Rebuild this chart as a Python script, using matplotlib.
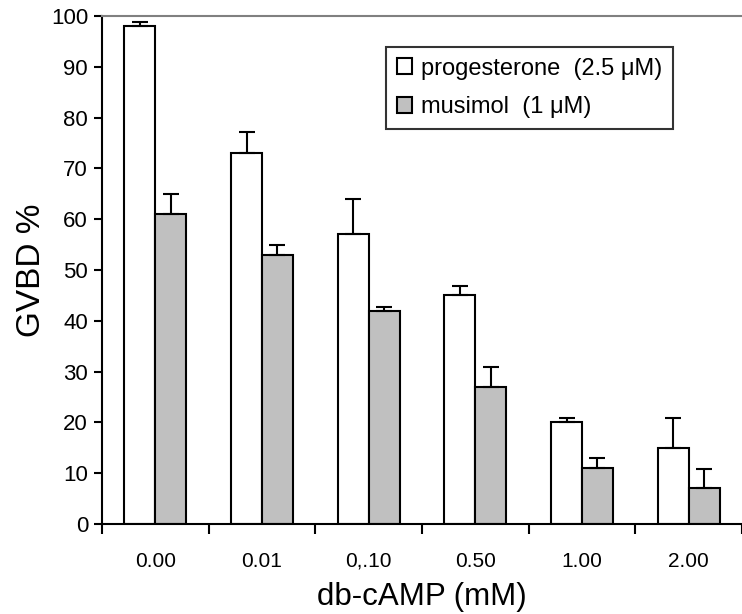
import matplotlib
matplotlib.use("Agg")
import matplotlib.pyplot as plt
import numpy as np

plt.rcParams['font.family'] = ['Liberation Sans', 'DejaVu Sans']

categories = ["0.00", "0.01", "0,.10", "0.50", "1.00", "2.00"]
progesterone = [98, 73, 57, 45, 20, 15]
progesterone_err = [0.8, 4.2, 7.0, 1.9, 0.8, 5.8]
musimol = [61, 53, 42, 27, 11, 7]
musimol_err = [3.9, 1.9, 0.8, 4.0, 2.0, 3.9]

W, H = 742, 614
fig = plt.figure(figsize=(W / 100, H / 100), dpi=100)
ax = fig.add_axes([102 / W, 90 / H, (742 - 102) / W, 508 / H])

x = np.arange(len(categories))
bw = 0.29
ekw = dict(elinewidth=1.5, capsize=6, capthick=1.5, ecolor='black')
ax.bar(x - bw / 2, progesterone, bw, color='white', edgecolor='black', linewidth=1.5,
       yerr=[np.zeros(len(x)), progesterone_err], error_kw=ekw,
       label='progesterone  (2.5 μM)', zorder=2)
ax.bar(x + bw / 2, musimol, bw, color='#c0c0c0', edgecolor='black', linewidth=1.5,
       yerr=[np.zeros(len(x)), musimol_err], error_kw=ekw,
       label='musimol  (1 μM)', zorder=2)

ax.set_ylim(0, 100)
ax.set_xlim(-0.5, 5.5 - 8 / 108)
ax.set_yticks(range(0, 101, 10))
ax.set_xticks(x)
ax.set_xticklabels(categories)
ax.set_xticks(np.arange(-0.5, 6.0, 1.0), minor=True)
ax.tick_params(axis='x', which='major', length=0, pad=20, labelsize=15)
ax.tick_params(axis='x', which='minor', length=7, width=1.5, direction='out')
ax.tick_params(axis='y', length=6, width=1.5, direction='out', labelsize=16, pad=4)

ax.spines['right'].set_visible(False)
ax.spines['top'].set_color('#808080')
ax.spines['top'].set_linewidth(1.5)
ax.spines['left'].set_linewidth(1.5)
ax.spines['bottom'].set_linewidth(1.5)

ax.set_ylabel('GVBD %', fontsize=24, labelpad=3)
ax.set_xlabel('db-cAMP (mM)', fontsize=22.5, labelpad=8)

leg = ax.legend(loc='upper left', bbox_to_anchor=((386 - 102) / 640, (524 - 47) / 508),
                fontsize=17, frameon=True, fancybox=False, edgecolor='black',
                handlelength=0.65, handleheight=0.65, handletextpad=0.4,
                borderpad=0.45, labelspacing=0.7, borderaxespad=0)
leg.get_frame().set_linewidth(1.5)

fig.savefig('out.png', dpi=100)
